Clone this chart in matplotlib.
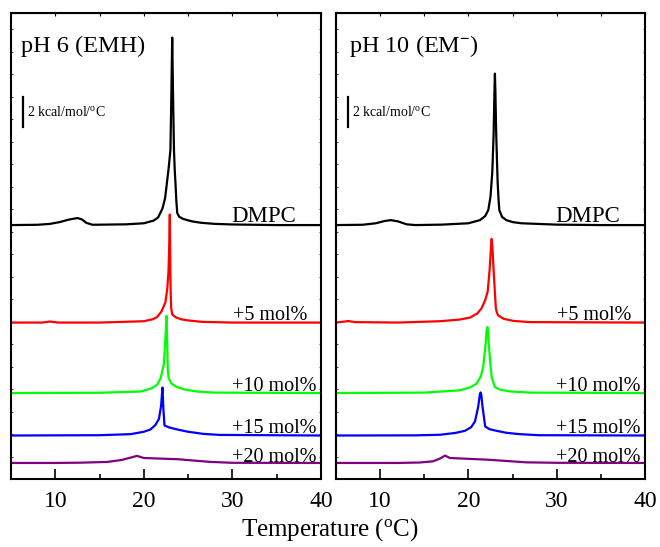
import numpy as np
import matplotlib
matplotlib.use('Agg')
import matplotlib.pyplot as plt
from matplotlib.ticker import MultipleLocator

plt.rcParams['font.family'] = 'Liberation Serif'
plt.rcParams['mathtext.fontset'] = 'custom'
plt.rcParams['mathtext.rm'] = 'Liberation Serif'
plt.rcParams['mathtext.it'] = 'Liberation Serif:italic'
plt.rcParams['mathtext.bf'] = 'Liberation Serif:bold'

# excess heat capacity (kcal/mol/oC), per panel and sample
labels = ['DMPC', '+5 mol%', '+10 mol%', '+15 mol%', '+20 mol%']
colors = ['black', '#ff0000', '#00ff00', '#0000ff', '#800080']
offsets = [16.93, 10.43, 5.73, 2.9, 1.07]   # stacking of the curves

# pH 6 (EMH)
t6_dmpc = [5, 8, 9.4, 10.5, 11.5, 12.5, 13.0, 13.5, 14.2, 18, 20, 21.1, 21.6, 22.1, 22.4, 22.6, 22.8, 23.0, 23.1, 23.2,
           23.3, 23.4, 23.5, 23.57, 23.67, 23.77, 24.0, 24.4, 24.9, 25.5, 26.5, 28, 30, 35, 40]
c6_dmpc = [0, 0.02, 0.08, 0.2, 0.36, 0.47, 0.38, 0.15, 0.02, 0.05, 0.12, 0.3, 0.5, 1.1, 1.8, 2.8, 3.8, 5.0, 8.5, 12.5,
           8.5, 5.0, 3.5, 2.8, 1.6, 0.8, 0.55, 0.42, 0.33, 0.24, 0.15, 0.08, 0.04, 0, 0]
t6_5 = [5, 8.5, 9.4, 10.3, 15, 20, 21, 21.5, 22.0, 22.44, 22.65, 22.78, 22.88, 22.93, 22.98, 23.02, 23.08, 23.2, 23.6,
        24.2, 24.9, 26.5, 30, 40]
c6_5 = [0, 0, 0.07, 0, 0, 0.09, 0.22, 0.37, 0.75, 1.37, 2.3, 3.4, 5.5, 7.2, 4.0, 2.2, 1.0, 0.55, 0.35,
        0.22, 0.15, 0.05, 0, 0]
t6_10 = [5, 15, 19.6, 20.8, 21.5, 21.9, 22.25, 22.44, 22.55, 22.63, 22.7, 22.8, 23.1, 23.6, 24.5, 26.0, 28, 40]
c6_10 = [0, 0.02, 0.1, 0.3, 0.55, 1.0, 1.9, 3.67, 5.15, 3.5, 1.6, 1.0, 0.65, 0.44, 0.25, 0.1, 0.03, 0]
t6_15 = [5, 15, 18.5, 20, 20.74, 21.3, 21.7, 21.95, 22.1, 22.2, 22.33, 22.8, 23.77, 25, 26.7, 28.5, 40]
c6_15 = [0, 0.02, 0.09, 0.25, 0.4, 0.7, 1.1, 2.0, 3.2, 1.8, 0.67, 0.55, 0.4, 0.25, 0.11, 0.04, 0]
t6_20 = [5, 10, 13, 15.9, 17.5, 19.23, 20, 23.8, 27.5, 30, 40]
c6_20 = [0, 0, 0.02, 0.07, 0.2, 0.47, 0.33, 0.25, 0.07, 0.01, 0]

# pH 10 (EM-)
t10_dmpc = [5, 8, 9.5, 10.5, 11.2, 12, 13, 14, 17, 20, 21.3, 21.9, 22.25, 22.5, 22.7, 22.85, 22.95, 23.0, 23.05, 23.15,
            23.3, 23.4, 23.5, 23.8, 24.3, 25, 26, 30, 35, 40]
c10_dmpc = [0, 0.02, 0.12, 0.27, 0.33, 0.25, 0.05, 0.0, 0.03, 0.12, 0.33, 0.6, 1.0, 1.9, 3.5, 6.0, 9.0, 10.1, 9.0, 6.0,
            3.0, 1.8, 1.0, 0.55, 0.33, 0.2, 0.12, 0.03, 0, 0]
t10_5 = [5, 5.7, 6.4, 7.2, 12, 16.8, 19, 20.17, 21.0, 21.5, 21.9, 22.18, 22.4, 22.55, 22.63, 22.72, 22.85, 23.0, 23.1,
         23.2, 23.38, 24, 25.1, 27, 40]
c10_5 = [0, 0.05, 0.1, 0.03, 0, 0.09, 0.2, 0.33, 0.6, 0.96, 1.5, 2.07, 3.5, 5.0, 5.58, 5.0, 3.5, 2.0, 1.0,
         0.7, 0.47, 0.25, 0.11, 0.03, 0]
t10_10 = [5, 15, 19.0, 20.2, 20.9, 21.4, 21.7, 21.95, 22.06, 22.14, 22.22, 22.3, 22.5, 22.65, 23.0, 23.6, 24.7, 27, 40]
c10_10 = [0, 0.03, 0.18, 0.38, 0.62, 1.1, 1.85, 3.3, 4.2, 4.4, 4.2, 3.3, 1.85, 1.0, 0.4, 0.22, 0.11, 0.03, 0]
t10_15 = [5, 14, 16.8, 18.5, 19.6, 20.3, 20.74, 21.1, 21.3, 21.38, 21.46, 21.6, 21.9, 22.4, 23.2, 24.3, 25.8, 28, 40]
c10_15 = [0, 0.01, 0.05, 0.17, 0.31, 0.55, 0.93, 1.9, 2.75, 2.87, 2.7, 1.9, 0.6, 0.42, 0.31, 0.18, 0.09, 0.02, 0]
t10_20 = [5, 12, 14.5, 16.0, 16.8, 17.35, 17.9, 22.1, 26.6, 30, 40]
c10_20 = [0, 0, 0.03, 0.11, 0.3, 0.49, 0.33, 0.22, 0.04, 0.01, 0]

panels = [
    ('pH 6 (EMH)', [(t6_dmpc, c6_dmpc), (t6_5, c6_5), (t6_10, c6_10), (t6_15, c6_15), (t6_20, c6_20)]),
    ('pH 10 (EM$^{\\mathbf{-}}$)', [(t10_dmpc, c10_dmpc), (t10_5, c10_5), (t10_10, c10_10), (t10_15, c10_15), (t10_20, c10_20)]),
]

# where the curve labels sit (x in axes fraction, y in data)
label_x = [0.919, 0.955, 0.987, 0.987, 0.987]
label_y = [17.13, 10.6, 5.87, 3.07, 1.15]
label_size = [16.5, 14.5, 14.5, 14.5, 14.5]

fig = plt.figure(figsize=(6.6, 5.47), dpi=100)
rects = [[11/660, 68/547, 310/660, 466/547], [336/660, 68/547, 309/660, 466/547]]

for rect, (title, curves) in zip(rects, panels):
    ax = fig.add_axes(rect)
    for (t, c), off, col in zip(curves, offsets, colors):
        ax.plot(t, np.array(c) + off, color=col, lw=1.6, solid_joinstyle='round')
    for lab, lx, ly, fs in zip(labels, label_x, label_y, label_size):
        ax.text(lx, ly, lab, transform=ax.get_yaxis_transform(), ha='right', va='baseline', fontsize=fs)

    ax.set_xlim(5, 40)
    ax.set_ylim(0, 31.07)
    ax.xaxis.set_major_locator(MultipleLocator(10))
    ax.xaxis.set_minor_locator(MultipleLocator(5))
    ax.yaxis.set_major_locator(MultipleLocator(1.5))
    ax.tick_params(axis='x', which='major', direction='in', length=7, width=1.2, labelsize=17, pad=8.5)
    ax.tick_params(axis='x', which='minor', direction='in', length=3.5, width=1.2)
    ax.tick_params(axis='y', which='major', direction='in', length=1.2, width=0.5, right=True, labelleft=False)
    for s in ax.spines.values():
        s.set_linewidth(1.5)

    # short ticks along the top edge
    top = ax.secondary_xaxis('top')
    top.xaxis.set_major_locator(MultipleLocator(5))
    top.tick_params(direction='in', length=2.5, width=0.8, labeltop=False)

    ax.text(0.032 if '6' in title else 0.042, 0.916, title, transform=ax.transAxes, fontsize=17.5, va='baseline')

    # scale bar: 2 kcal/mol/oC
    ax.plot([6.36, 6.36], [23.45, 25.45], color='black', lw=1.6)
    ax.text(6.85, 24.45, '2 kcal/mol/$^{\\rm o}$C', fontsize=10, va='center')

fig.text(0.5, 0.031, 'Temperature ($^{\\rm o}$C)', ha='center', va='center', fontsize=18)

fig.savefig('out.png', dpi=100)
